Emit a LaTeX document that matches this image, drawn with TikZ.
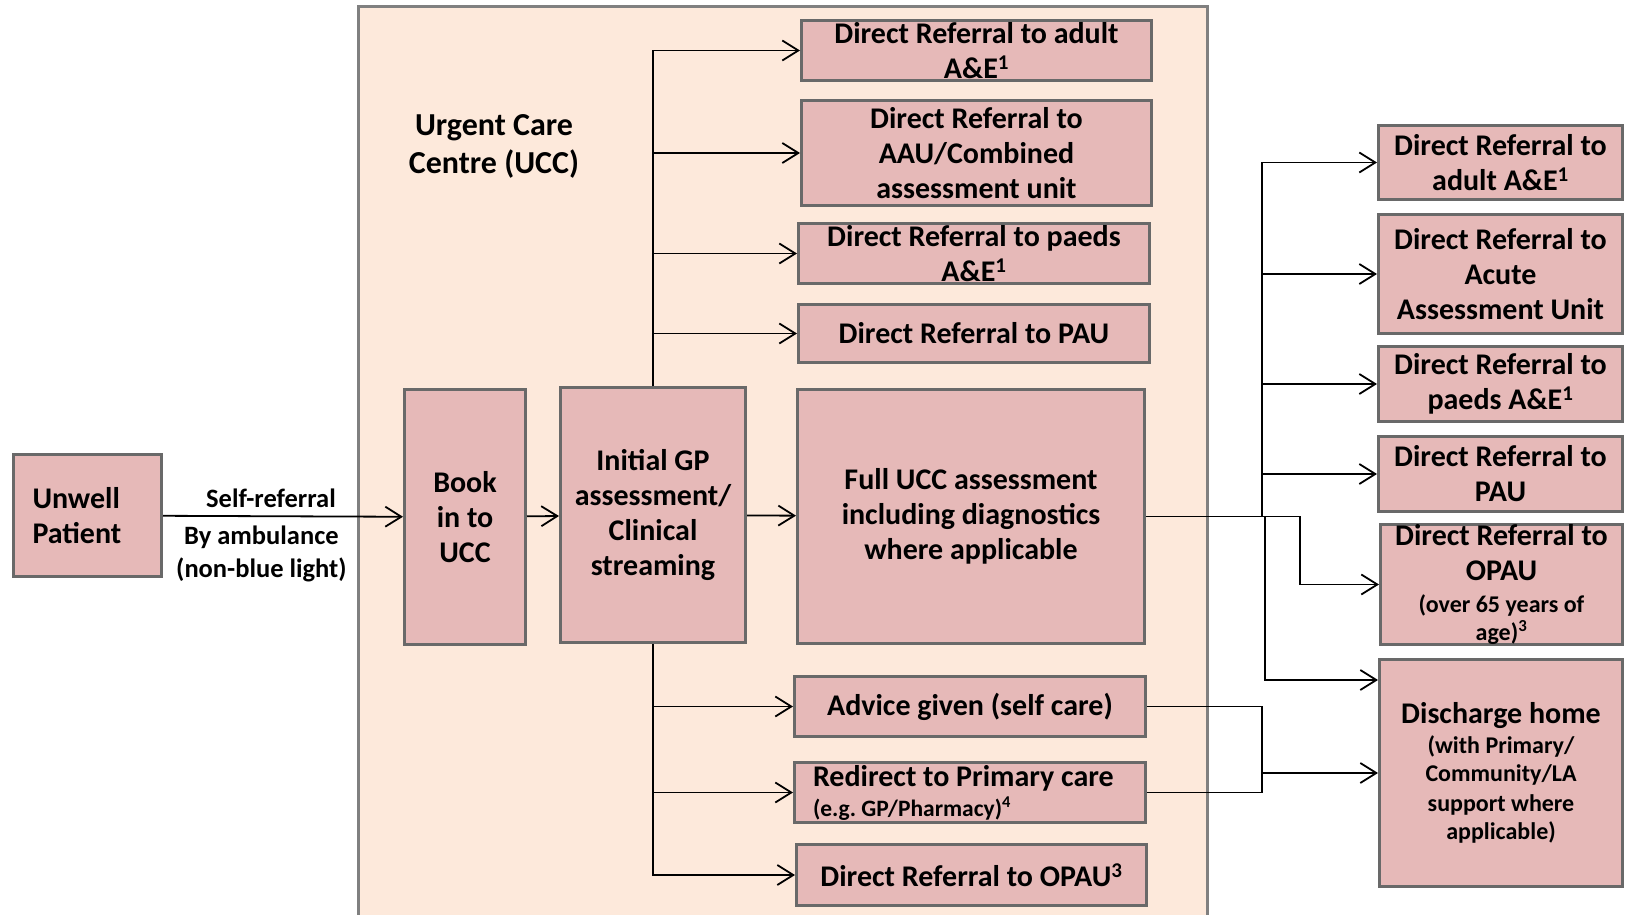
\documentclass[tikz,border=0pt]{standalone}
\usepackage{fontspec}
\setmainfont{Carlito}
\usetikzlibrary{arrows.meta,calc}

\definecolor{boxfill}{RGB}{230,185,184}
\definecolor{boxline}{RGB}{105,105,105}
\definecolor{uccfill}{RGB}{253,233,219}
\definecolor{uccline}{RGB}{128,128,128}

\newcommand{\smalltxt}{\fontsize{24}{30}\selectfont}

\begin{document}
\begin{tikzpicture}[x=1pt,y=-1pt,
    box/.style={draw=boxline, fill=boxfill, line width=3pt, inner sep=0pt, align=center,
        font=\fontsize{30}{35}\selectfont\bfseries},
    lbl/.style={inner sep=0pt, align=center, font=\fontsize{26.5}{33}\selectfont\bfseries},
    link/.style={line width=1.8pt},
    arr/.style={link, -{Straight Barb[length=16pt,width=20pt]}}]
    \useasboundingbox (0,0) rectangle (1626,915);

    % urgent care centre
    \fill[uccfill] (358,7) rectangle (1207,915);
    \draw[uccline, line width=3pt] (358,915) -- (358,7) -- (1207,7) -- (1207,915);
    \node[lbl, font=\fontsize{32}{38}\selectfont\bfseries] (ucctitle) at (494,146) {Urgent Care\\Centre (UCC)};

    \node[box, minimum width=148, minimum height=122, text width=110pt, align=left] (patient) at (87.5,515.5) {Unwell\\Patient};
    \node[box, minimum width=121, minimum height=255] (book) at (465,517) {Book\\in to\\UCC};
    \node[box, minimum width=185, minimum height=255] (gp) at (653,515) {Initial GP\\assessment/\\Clinical\\streaming};
    \node[box, minimum width=347, minimum height=254] (full) at (971,516.5) {Full UCC assessment\\including diagnostics\\where applicable};

    \node[box, minimum width=350, minimum height=60] (adultae) at (976.5,50.5) {Direct Referral to adult\\A\&E\textsuperscript{1}};
    \node[box, minimum width=350, minimum height=105] (aau) at (976.5,153) {Direct Referral to\\AAU/Combined\\assessment unit};
    \node[box, minimum width=351, minimum height=60] (paedsae) at (974,253.5) {Direct Referral to paeds\\A\&E\textsuperscript{1}};
    \node[box, minimum width=351, minimum height=58] (pau) at (974,333.5) {Direct Referral to PAU};

    \node[box, minimum width=351, minimum height=60] (advice) at (970,706.5) {Advice given (self care)};
    \node[box, minimum width=351, minimum height=60, text width=314pt, align=flush left] (redirect) at (970,792.5)
        {Redirect to Primary care\\[-5pt]{\fontsize{23.5}{27}\selectfont (e.g.\ GP/Pharmacy)\textsuperscript{4}}};
    \node[box, minimum width=350, minimum height=61] (opauin) at (971.5,875) {Direct Referral to OPAU\textsuperscript{3}};

    \node[box, minimum width=244, minimum height=74] (radult) at (1500.5,162.5) {Direct Referral to\\adult A\&E\textsuperscript{1}};
    \node[box, minimum width=244, minimum height=119] (racute) at (1500.5,274) {Direct Referral to\\Acute\\Assessment Unit};
    \node[box, minimum width=244, minimum height=75] (rpaeds) at (1500.5,384) {Direct Referral to\\paeds A\&E\textsuperscript{1}};
    \node[box, minimum width=244, minimum height=75] (rpau) at (1500.5,474) {Direct Referral to\\PAU};
    \node[box, minimum width=242, minimum height=120] (ropau) at (1501.5,584.5)
        {Direct Referral to\\OPAU\\[-3pt]{\smalltxt (over 65 years of}\\[-7pt]{\smalltxt age)\textsuperscript{3}}};
    \node[box, minimum width=243, minimum height=227] (discharge) at (1501,773)
        {Discharge home\\[-5pt]{\smalltxt (with Primary/}\\[-7pt]{\smalltxt Community/LA}\\[-5pt]{\smalltxt support where}\\[-7pt]{\smalltxt applicable)}};

    % into the centre
    \draw[arr] (patient) -- (book)
        node[lbl, pos=0.45, above=8pt] (selfref) {Self-referral}
        node[lbl, pos=0.41, below=9pt] (ambulance) {By ambulance\\(non-blue light)};
    \draw[arr] (book) -- (gp);
    \draw[arr] (gp) -- (full);

    % streaming
    \foreach \n in {adultae,aau,paedsae,pau}
        \draw[arr] (gp.north) |- (\n.west);
    \foreach \n in {advice,redirect,opauin}
        \draw[arr] (gp.south) |- (\n.west);

    % out of full assessment
    \coordinate (fj) at (1262,516.5);
    \coordinate (fd) at (1265,516.5);
    \coordinate (fk) at (1300,516.5);
    \foreach \n in {radult,racute,rpaeds,rpau}
        \draw[arr] (full.east) -- (fj) |- (\n.west);
    \draw[arr] (full.east) -- (fk) |- (ropau.west);
    \draw[arr] (full.east) -- (fd) |- ($(discharge.north west)+(0,22)$);

    % discharge
    \coordinate (mj) at (1262,773);
    \draw[link] (advice.east) -| (mj);
    \draw[link] (redirect.east) -| (mj);
    \draw[arr] (mj) -- (discharge.west);

\end{tikzpicture}
\end{document}
